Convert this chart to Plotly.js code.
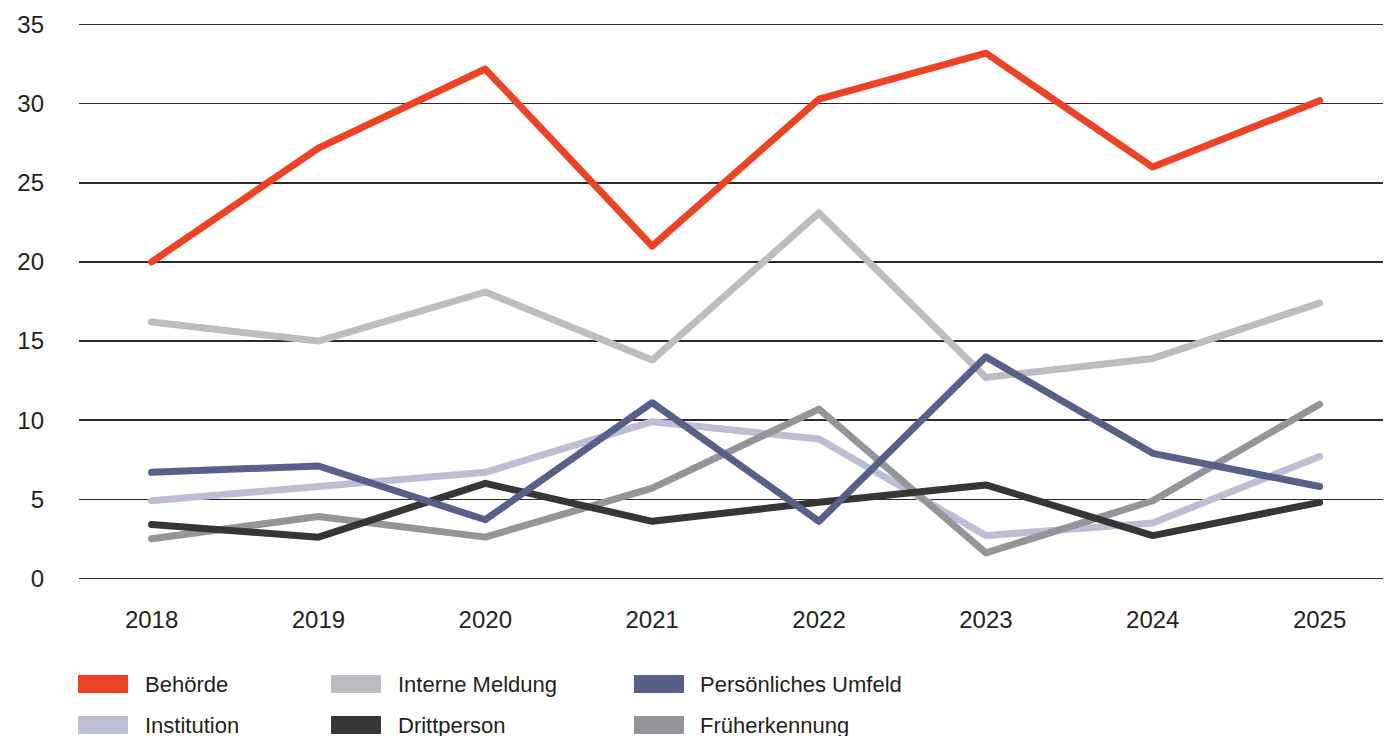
<!DOCTYPE html>
<html>
<head>
<meta charset="utf-8">
<script src="https://cdn.plot.ly/plotly-3.0.1.min.js"></script>
<style>
html,body{margin:0;padding:0;background:#fff;}
#chart{width:1389px;height:736px;}
.scatterlayer path.js-line{stroke-linecap:round;stroke-linejoin:round;}
</style>
</head>
<body>
<div id="chart"></div>
<script>
const years = [2018, 2019, 2020, 2021, 2022, 2023, 2024, 2025];
const yTicks = [0, 5, 10, 15, 20, 25, 30, 35];

const behoerde       = [20.0, 27.2, 32.2, 21.0, 30.3, 33.2, 26.0, 30.2];
const interneMeldung = [16.2, 15.0, 18.1, 13.8, 23.1, 12.7, 13.9, 17.4];
const persUmfeld     = [6.7, 7.1, 3.7, 11.1, 3.6, 14.0, 7.9, 5.8];
const institution    = [4.9, 5.8, 6.7, 9.9, 8.8, 2.7, 3.5, 7.7];
const drittperson    = [3.4, 2.6, 6.0, 3.6, 4.8, 5.9, 2.7, 4.8];
const frueherkennung = [2.5, 3.9, 2.6, 5.7, 10.7, 1.6, 4.9, 11.0];

const seriesNames = ["Behörde", "Interne Meldung", "Persönliches Umfeld", "Institution", "Drittperson", "Früherkennung"];
const seriesColors = ["#EF4123", "#BCBDC0", "#576089", "#BCBFD4", "#363636", "#939598"];
const seriesData = [behoerde, interneMeldung, persUmfeld, institution, drittperson, frueherkennung];

// drawing order (bottom to top)
const drawOrder = [3, 5, 4, 1, 0, 2];
const traces = drawOrder.map(i => ({
  type: 'scatter', mode: 'lines', x: years, y: seriesData[i], name: seriesNames[i],
  line: {color: seriesColors[i], width: 7}, showlegend: false, hoverinfo: 'x+y+name'
}));

// plot area geometry (pixels) used to place the custom legend
const plotL = 79, plotW = 1304, plotT = 20, plotH = 563;
const colSwatchX = [78, 331, 634];
const colTextX = [143, 396, 698];
const rowY = [684, 725];
const W = 1389, H = 736;
const shapes = [], annotations = [];
seriesNames.forEach((n, i) => {
  const c = i % 3, r = Math.floor(i / 3);
  shapes.push({type: 'rect', xref: 'paper', yref: 'paper', layer: 'above',
    x0: (colSwatchX[c] - plotL) / plotW, x1: (colSwatchX[c] + 50 - plotL) / plotW,
    y0: (plotT + plotH - (rowY[r] + 9)) / plotH, y1: (plotT + plotH - (rowY[r] - 9)) / plotH,
    fillcolor: seriesColors[i], line: {width: 0}});
  annotations.push({xref: 'paper', yref: 'paper', x: (colTextX[c] - plotL) / plotW,
    y: (plotT + plotH - rowY[r]) / plotH, xanchor: 'left', yanchor: 'middle', showarrow: false,
    text: n, font: {family: 'Liberation Sans, Arial, sans-serif', size: 22, color: '#231F20'}});
});

const layout = {
  width: W, height: H,
  margin: {l: plotL, r: W - plotL - plotW, t: plotT, b: H - plotT - plotH},
  paper_bgcolor: '#fff', plot_bgcolor: '#fff',
  font: {family: 'Liberation Sans, Arial, sans-serif', size: 24, color: '#231F20'},
  xaxis: {
    range: [2017.565, 2025.38], tickvals: years, ticktext: years.map(String),
    showgrid: false, zeroline: false, showline: false, ticks: '',
    ticklabelstandoff: 20, tickfont: {size: 24, color: '#231F20'}
  },
  yaxis: {
    range: [-0.3, 35.3], tickvals: yTicks, ticktext: yTicks.map(String),
    showgrid: true, gridcolor: '#2b2b2b', gridwidth: 1.3,
    zeroline: false, showline: false, ticks: '',
    ticklabelstandoff: 34, tickfont: {size: 24, color: '#231F20'}
  },
  shapes: shapes, annotations: annotations,
  showlegend: false
};

Plotly.newPlot('chart', traces, layout, {displayModeBar: false, staticPlot: true});
</script>
</body>
</html>
